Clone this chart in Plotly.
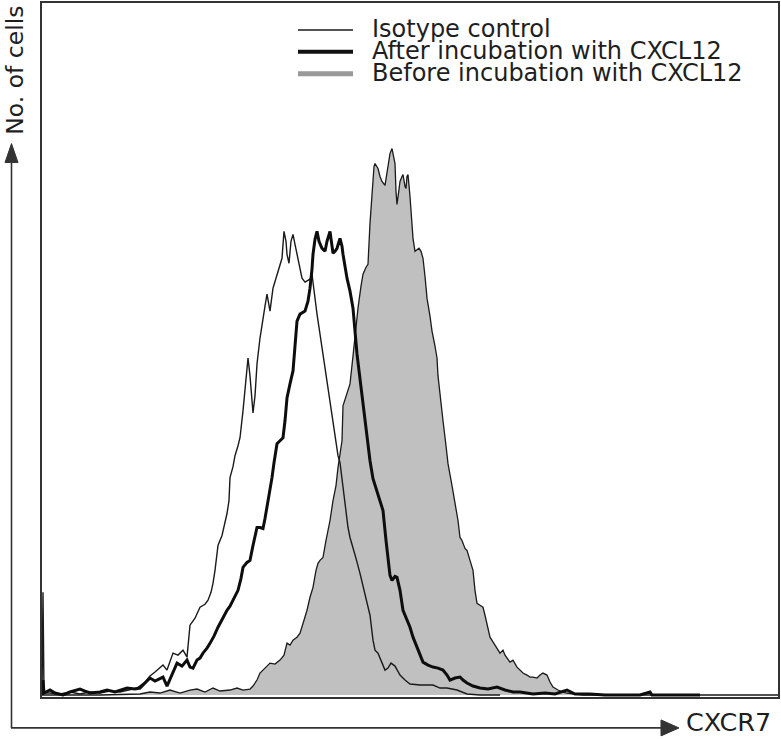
import plotly.graph_objects as go

# ---- data (channel, cell count) ----
iso_x = [0, 1, 2, 8, 18, 28, 38, 48, 58, 68, 78, 88, 95, 103, 108, 113, 118, 121, 125, 131, 136, 141, 145, 148, 153, 158, 163, 166, 169, 171, 173, 176, 180, 185, 187, 188, 191, 193, 196, 198, 201, 203, 206, 208, 211, 213, 215, 218, 221, 223, 225, 228, 231, 235, 238, 240, 242, 244, 245, 247, 249, 251, 253, 255, 258, 260, 263, 265, 268, 270, 272, 275, 278, 280, 283, 285, 288, 291, 294, 296, 298, 301, 304, 306, 308, 311, 314, 318, 322, 325, 328, 331, 333, 336, 339, 343, 346, 349, 353, 358, 363, 368, 378, 391, 398, 405, 415, 425, 438, 458]
iso_y = [0, 103, 2, 2, 1, 3, 1, 3, 2, 4, 3, 5, 7, 13, 19, 23, 28, 30, 25, 42, 40, 45, 38, 70, 77, 88, 91, 95, 103, 112, 125, 150, 160, 182, 195, 218, 229, 240, 250, 258, 285, 308, 338, 320, 283, 300, 332, 358, 375, 390, 402, 385, 408, 422, 433, 438, 465, 455, 442, 433, 455, 462, 452, 442, 425, 418, 414, 415, 417, 422, 405, 382, 362, 348, 330, 315, 295, 275, 255, 240, 233, 208, 185, 168, 158, 148, 137, 122, 105, 92, 80, 55, 45, 42, 35, 25, 27, 32, 29, 20, 15, 11, 10, 10, 7, 7, 5, 1, 0, 0]

after_x = [0, 1, 2, 8, 13, 21, 28, 38, 43, 48, 58, 65, 73, 85, 93, 98, 103, 108, 113, 118, 121, 125, 130, 135, 140, 145, 148, 151, 155, 158, 161, 165, 168, 172, 176, 180, 185, 188, 191, 196, 199, 201, 205, 208, 211, 215, 218, 221, 223, 225, 228, 230, 232, 235, 238, 241, 243, 245, 248, 251, 253, 255, 258, 261, 263, 266, 268, 270, 271, 273, 275, 277, 280, 283, 285, 288, 290, 291, 293, 295, 298, 300, 301, 303, 305, 308, 311, 313, 315, 318, 321, 324, 328, 331, 335, 338, 341, 344, 346, 348, 350, 353, 355, 358, 361, 365, 368, 371, 375, 378, 381, 386, 391, 396, 401, 405, 408, 413, 418, 421, 425, 431, 438, 446, 455, 463, 471, 478, 491, 503, 513, 525, 533, 548, 563, 580, 598, 608, 610, 658]
after_y = [0, 15, 2, 5, 2, 0, 3, 6, 4, 2, 3, 5, 3, 7, 6, 7, 12, 17, 14, 16, 18, 9, 20, 32, 29, 35, 28, 27, 35, 37, 42, 47, 52, 59, 68, 76, 85, 89, 95, 105, 117, 128, 133, 135, 150, 168, 168, 167, 177, 188, 205, 218, 233, 252, 255, 258, 275, 298, 312, 325, 350, 375, 382, 384, 385, 395, 408, 427, 442, 457, 465, 455, 448, 445, 455, 465, 450, 443, 445, 448, 458, 450, 442, 430, 418, 405, 388, 365, 342, 317, 292, 265, 235, 217, 205, 195, 185, 155, 135, 120, 115, 119, 118, 105, 85, 75, 68, 58, 48, 39, 33, 30, 28, 27, 25, 20, 15, 17, 18, 15, 12, 9, 7, 6, 8, 5, 3, 3, 1, 2, 1, 5, 1, 1, 0, 0, 0, 3, 0, 0]

before_x = [0, 58, 98, 108, 118, 128, 138, 148, 155, 163, 171, 178, 188, 195, 201, 208, 211, 215, 218, 223, 228, 233, 238, 242, 245, 248, 251, 255, 258, 262, 265, 268, 271, 274, 276, 278, 281, 284, 288, 291, 294, 296, 298, 300, 301, 304, 308, 311, 314, 316, 319, 321, 324, 326, 328, 330, 332, 333, 335, 336, 338, 340, 343, 345, 346, 348, 350, 352, 353, 354, 355, 357, 358, 360, 361, 363, 364, 365, 366, 368, 369, 371, 373, 375, 377, 379, 381, 383, 385, 388, 390, 393, 395, 396, 398, 401, 404, 406, 410, 413, 416, 418, 420, 423, 425, 428, 431, 433, 435, 438, 441, 443, 446, 448, 453, 458, 461, 463, 468, 471, 475, 478, 481, 485, 488, 491, 495, 498, 501, 505, 508, 511, 516, 521, 525, 533, 541, 558, 737]
before_y = [0, 0, 1, 3, 2, 5, 2, 5, 6, 3, 7, 4, 5, 7, 5, 6, 9, 15, 22, 27, 32, 31, 35, 40, 52, 50, 55, 58, 62, 75, 85, 98, 108, 125, 132, 135, 138, 155, 175, 195, 210, 228, 240, 255, 290, 300, 312, 340, 370, 388, 410, 422, 429, 432, 473, 505, 530, 533, 530, 528, 520, 515, 511, 525, 532, 543, 548, 540, 533, 505, 492, 507, 515, 520, 522, 510, 508, 520, 522, 500, 488, 458, 445, 447, 448, 445, 438, 420, 398, 380, 365, 350, 338, 320, 300, 275, 250, 232, 210, 192, 175, 158, 155, 147, 145, 135, 125, 105, 92, 90, 88, 80, 67, 58, 50, 42, 45, 40, 33, 35, 28, 25, 22, 20, 18, 18, 17, 20, 22, 20, 13, 8, 5, 3, 2, 1, 0, 0, 0]

legend_labels = ["Isotype control", "After incubation with CXCL12", "Before incubation with CXCL12"]
x_label = "CXCR7"
y_label = "No. of cells"

FONT = "DejaVu Sans"
TXT = "#1e1e1e"

fig = go.Figure()
fig.add_trace(go.Scatter(x=before_x, y=before_y, mode="lines", fill="tozeroy",
                         fillcolor="#c0c0c0", line=dict(color="#1a1a1a", width=1.3),
                         name=legend_labels[2], showlegend=False))
fig.add_trace(go.Scatter(x=iso_x, y=iso_y, mode="lines",
                         line=dict(color="#1a1a1a", width=1.4),
                         name=legend_labels[0], showlegend=False))
fig.add_trace(go.Scatter(x=after_x, y=after_y, mode="lines",
                         line=dict(color="#0d0d0d", width=3),
                         name=legend_labels[1], showlegend=False))

def px_x(p):
    return (p - 42) / 736.0

def px_y(p):
    return (697 - p) / 696.0

shapes = []
ax_col = "#333333"
# vertical axis arrow
shapes.append(dict(type="line", xref="paper", yref="paper",
                   x0=px_x(11.5), x1=px_x(11.5), y0=px_y(728), y1=px_y(158),
                   line=dict(color=ax_col, width=1.6)))
shapes.append(dict(type="path", xref="paper", yref="paper",
                   path=f"M {px_x(5)} {px_y(161)} L {px_x(18)} {px_y(161)} L {px_x(11.5)} {px_y(142)} Z",
                   fillcolor=ax_col, line=dict(color=ax_col, width=1)))
# horizontal axis arrow
shapes.append(dict(type="line", xref="paper", yref="paper",
                   x0=px_x(11), x1=px_x(663), y0=px_y(728), y1=px_y(728),
                   line=dict(color=ax_col, width=1.6)))
shapes.append(dict(type="path", xref="paper", yref="paper",
                   path=f"M {px_x(661)} {px_y(720)} L {px_x(661)} {px_y(736)} L {px_x(679)} {px_y(728)} Z",
                   fillcolor=ax_col, line=dict(color=ax_col, width=1)))

# legend samples
leg_styles = [("#1a1a1a", 1.5), ("#111111", 4), ("#999999", 5)]
leg_rows = [28, 50, 72]
annotations = []
for lab, (col, w), row in zip(legend_labels, leg_styles, leg_rows):
    shapes.append(dict(type="line", xref="paper", yref="paper",
                       x0=px_x(298), x1=px_x(353), y0=px_y(row), y1=px_y(row),
                       line=dict(color=col, width=w)))
    annotations.append(dict(xref="paper", yref="paper", x=px_x(370), y=px_y(row - 1),
                             xanchor="left", yanchor="middle", showarrow=False,
                             text=lab, font=dict(family=FONT, size=24, color=TXT)))

annotations.append(dict(xref="paper", yref="paper", x=px_x(684), y=px_y(739),
                        xanchor="left", yanchor="bottom", showarrow=False,
                        text=x_label, font=dict(family=FONT, size=25.5, color=TXT)))
annotations.append(dict(xref="paper", yref="paper", x=px_x(15), y=px_y(69),
                        xanchor="center", yanchor="middle", showarrow=False, textangle=-90,
                        text=y_label, font=dict(family=FONT, size=23.5, color=TXT)))

fig.update_layout(
    width=781, height=739,
    margin=dict(l=42, r=3, t=1, b=42, pad=0),
    paper_bgcolor="white", plot_bgcolor="white",
    showlegend=False,
    shapes=shapes, annotations=annotations,
    xaxis=dict(range=[0, 736], showgrid=False, zeroline=False, showticklabels=False,
               ticks="", showline=True, mirror=True, linecolor="#333333", linewidth=2),
    yaxis=dict(range=[-2, 694], showgrid=False, zeroline=False, showticklabels=False,
               ticks="", showline=True, mirror=True, linecolor="#333333", linewidth=2),
)

fig.write_html("out.html", config={"displayModeBar": False},
               post_script="document.body.style.margin='0';document.body.style.overflow='hidden';")
